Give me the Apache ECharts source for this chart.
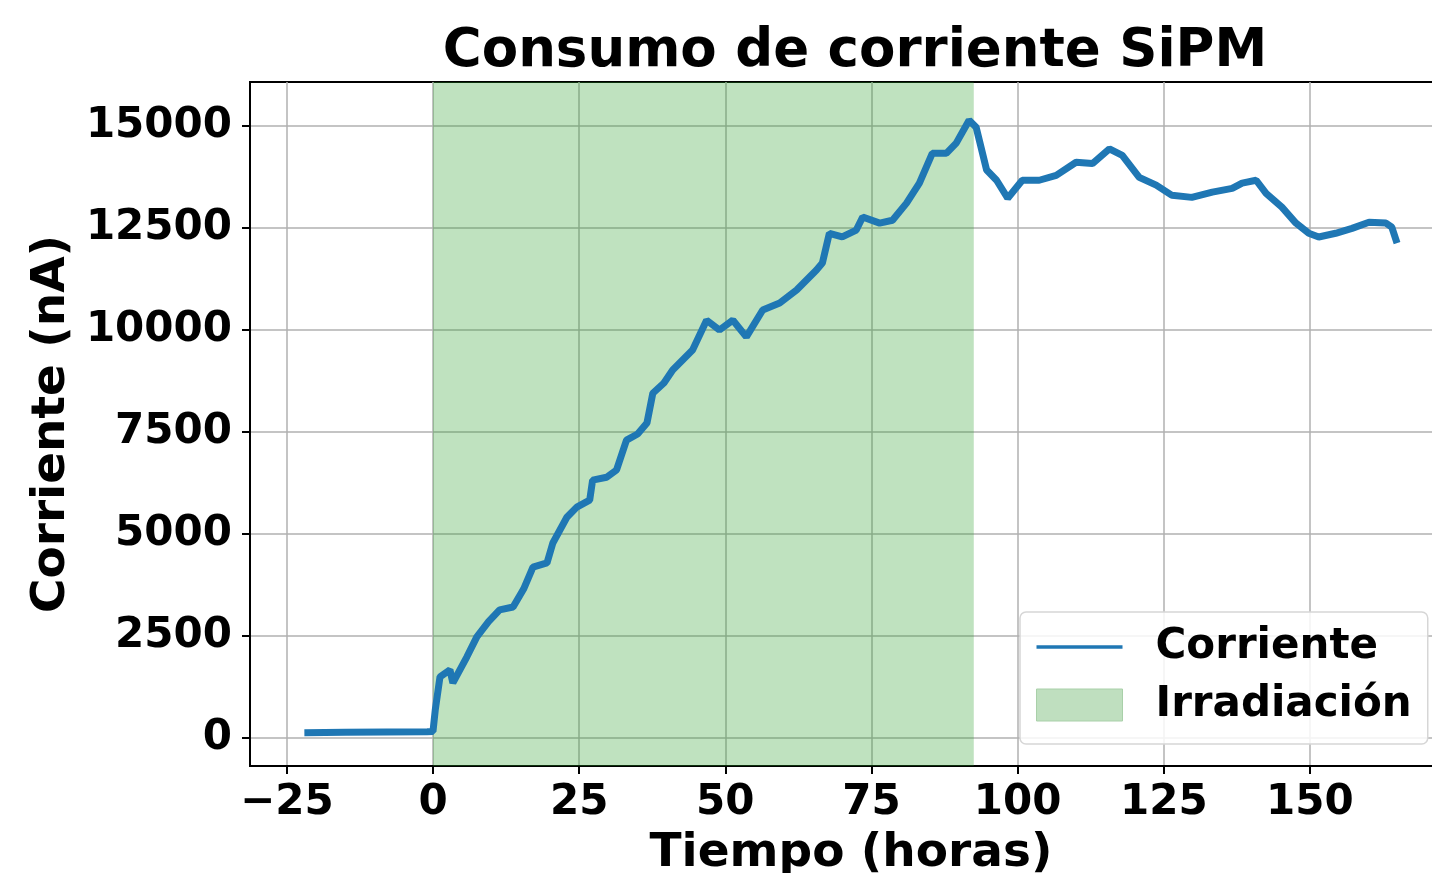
<!DOCTYPE html>
<html>
<head>
<meta charset="utf-8">
<script src="https://cdn.jsdelivr.net/npm/echarts@6/dist/echarts.min.js"></script>
<style>
  html, body { margin: 0; padding: 0; background: #fff; }
  #chart { width: 1432px; height: 873px; }
</style>
</head>
<body>
<div id="chart"></div>
<script>
// tiempo (horas) y corriente (nA)
const tiempo = [-22, -15, -8, -1, 0, 0.4, 1.2, 2.9, 3.4, 5.8, 7.5, 9.5, 11.4, 13.7, 15.5, 17.1, 19.5, 20.5, 22.9, 24.6,
  26.8, 27.3, 29.7, 31.4, 33.1, 35, 36.6, 37.6, 39.5, 41, 44.4, 46.8, 49, 51.3, 53.6, 56.4, 59.3, 62.2, 65.6, 66.6,
  67.8, 70, 72.4, 73.5, 76.4, 78.6, 81, 83.2, 85.4, 87.8, 89.5, 91.7, 92.9, 94.7, 96.4, 98.3, 100.8, 103.7, 106.6, 110,
  112.8, 115.7, 117.9, 120.8, 123.7, 126.4, 129.8, 133.3, 136.7, 138.4, 140.8, 142.5, 145.2, 147.6, 149.8, 151.5,
  154.4, 157.2, 160.1, 163, 164, 164.9];
const corriente = [130, 140, 150, 155, 160, 700, 1500, 1670, 1350, 1990, 2480, 2850, 3140, 3210, 3650, 4190, 4290, 4780, 5410, 5660,
  5830, 6320, 6390, 6570, 7300, 7450, 7720, 8450, 8700, 9020, 9510, 10240, 10000, 10240, 9830, 10490, 10660, 10980, 11470, 11640,
  12370, 12280, 12450, 12770, 12620, 12690, 13110, 13600, 14330, 14330, 14580, 15140, 14970, 13920, 13670, 13230, 13670, 13670, 13790, 14110,
  14080, 14440, 14280, 13740, 13550, 13300, 13250, 13380, 13470, 13600, 13670, 13350, 13010, 12620, 12370, 12280,
  12370, 12490, 12640, 12620, 12520, 12130];
const irradiacion = [0, 92.5]; // horas
const xTicks = [-25, 0, 25, 50, 75, 100, 125, 150];
const yTicks = [0, 2500, 5000, 7500, 10000, 12500, 15000];

const font = '"DejaVu Sans", sans-serif';
const chart = echarts.init(document.getElementById('chart'));

chart.setOption({
  animation: false,
  backgroundColor: '#fff',
  title: {
    text: 'Consumo de corriente SiPM',
    left: 850,
    textAlign: 'center',
    top: 21,
    textStyle: { fontFamily: font, fontWeight: 'bold', fontSize: 53, color: '#000' }
  },
  legend: {
    left: 1020,
    top: 612,
    orient: 'vertical',
    itemWidth: 86,
    itemHeight: 32,
    itemGap: 16,
    padding: [14, 16, 18, 16],
    backgroundColor: 'rgba(255,255,255,0.85)',
    borderColor: '#d6d6d6',
    borderWidth: 1.5,
    borderRadius: 6,
    textStyle: { fontFamily: font, fontWeight: 'bold', fontSize: 42, color: '#000', padding: [0, 0, 0, 28] },
    data: [
      { name: 'Corriente', icon: 'path://M0,0 L24,0 L24,1 L0,1 Z', itemStyle: { color: '#1f77b4' } },
      { name: 'Irradiación', icon: 'rect', itemStyle: { color: '#bfdfbf', borderColor: '#a9d0a9', borderWidth: 1 } }
    ]
  },
  grid: {
    left: 250, top: 82, right: -20, bottom: 107,
    outerBoundsMode: 'none', containLabel: false,
    show: true, borderColor: '#000', borderWidth: 2
  },
  xAxis: {
    type: 'value',
    min: -31.3,
    max: 174.3,
    name: 'Tiempo (horas)',
    nameLocation: 'middle',
    nameGap: 64,
    nameTextStyle: { fontFamily: font, fontWeight: 'bold', fontSize: 47, color: '#000' },
    axisLine: { show: true, onZero: false, lineStyle: { color: '#000', width: 2 } },
    axisTick: { show: true, length: 8, lineStyle: { color: '#000', width: 2 }, customValues: xTicks },
    axisLabel: {
      customValues: xTicks,
      margin: 16,
      fontFamily: font, fontWeight: 'bold', fontSize: 42, color: '#000',
      formatter: v => (v < 0 ? '\u2212' + Math.abs(v) : String(v))
    },
    splitLine: { show: true, lineStyle: { color: '#b0b0b0', width: 1.5 } }
  },
  yAxis: {
    type: 'value',
    min: -686,
    max: 16078,
    name: 'Corriente (nA)',
    nameLocation: 'middle',
    nameGap: 172,
    nameRotate: 90,
    nameTextStyle: { fontFamily: font, fontWeight: 'bold', fontSize: 47, color: '#000' },
    axisLine: { show: true, onZero: false, lineStyle: { color: '#000', width: 2 } },
    axisTick: { show: true, length: 8, lineStyle: { color: '#000', width: 2 }, customValues: yTicks },
    axisLabel: {
      customValues: yTicks,
      margin: 18,
      fontFamily: font, fontWeight: 'bold', fontSize: 42, color: '#000',
      formatter: v => String(v)
    },
    splitLine: { show: true, lineStyle: { color: '#b0b0b0', width: 1.5 } }
  },
  series: [
    {
      name: 'Irradiación',
      type: 'line',
      data: [],
      color: '#bfdfbf',
      markArea: {
        silent: true,
        itemStyle: { color: 'rgba(44,160,44,0.3)' },
        data: [[{ xAxis: irradiacion[0] }, { xAxis: irradiacion[1] }]]
      },
      z: 1
    },
    {
      name: 'Corriente',
      type: 'line',
      data: tiempo.map((t, i) => [t, corriente[i]]),
      showSymbol: false,
      color: '#1f77b4',
      lineStyle: { color: '#1f77b4', width: 7 },
      z: 3
    }
  ]
});
</script>
</body>
</html>
